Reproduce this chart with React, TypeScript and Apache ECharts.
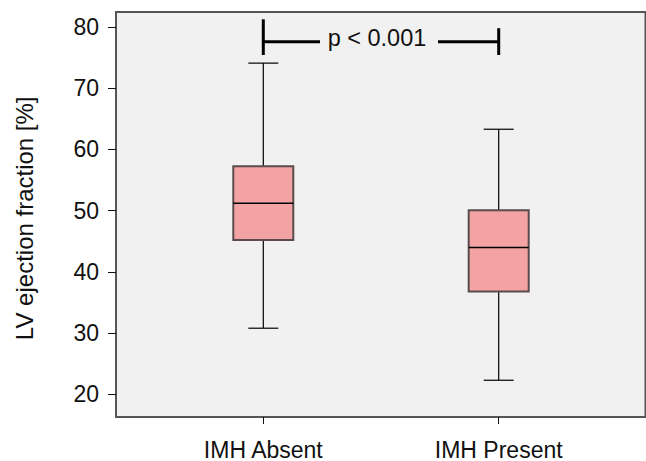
import React, { useEffect, useRef } from "react";
import * as echarts from "echarts";

const categories = ["IMH Absent", "IMH Present"];
const whiskerMin = [30.8, 22.3];
const q1 = [45.2, 36.8];
const median = [51.2, 44.0];
const q3 = [57.25, 50.05];
const whiskerMax = [74.1, 63.3];
const yTicks = [20, 30, 40, 50, 60, 70, 80];
const yTitle = "LV ejection fraction [%]";
const pLabel = "p < 0.001";
// bracket: left top, right top, bottom, horizontal line level
const bracketLeftTop = 81.26;
const bracketRightTop = 79.8;
const bracketBottom = 75.43;
const bracketLevel = 77.6;

const FONT = "'Liberation Sans', Arial, Helvetica, sans-serif";

export default function App() {
  const ref = useRef<HTMLDivElement>(null);
  useEffect(() => {
    if (!ref.current) return;
    const chart = echarts.init(ref.current, undefined, { renderer: "svg" });
    const boxData = categories.map((_, i) => [i, whiskerMin[i], q1[i], median[i], q3[i], whiskerMax[i]]);
    const option: any = {
      animation: false,
      backgroundColor: "#ffffff",
      textStyle: { fontFamily: FONT },
      grid: [
        { left: 116, width: 529.5, top: 27, bottom: 66.67 },
        { left: 145.6, width: 470.8, top: 27, bottom: 66.67 },
      ],
      xAxis: [
        { gridIndex: 0, type: "value", show: false, min: 0, max: 1 },
        {
          gridIndex: 1,
          type: "category",
          data: categories,
          offset: 22.67,
          axisLine: { show: false },
          axisTick: { show: true, alignWithLabel: true, length: 7, lineStyle: { color: "#111", width: 1 } },
          axisLabel: { fontSize: 23, color: "#111", margin: 21, fontFamily: FONT },
          splitLine: { show: false },
        },
      ],
      yAxis: [
        {
          gridIndex: 0,
          type: "value",
          min: yTicks[0],
          max: yTicks[yTicks.length - 1],
          interval: 10,
          axisLine: { show: false },
          axisTick: { show: true, length: 8, lineStyle: { color: "#111", width: 1 } },
          axisLabel: { fontSize: 23, color: "#111", margin: 17, fontFamily: FONT },
          splitLine: { show: false },
        },
        {
          gridIndex: 1,
          type: "value",
          min: yTicks[0],
          max: yTicks[yTicks.length - 1],
          show: false,
        },
      ],
      graphic: [
        {
          type: "rect",
          z: -10,
          shape: { x: 116, y: 12, width: 529.5, height: 405 },
          style: { fill: "#f1f1f1", stroke: "#555555", lineWidth: 2 },
        },
        {
          type: "text",
          x: 24.7,
          y: 218.3,
          rotation: Math.PI / 2,
          style: {
            text: yTitle,
            fontSize: 24,
            fontFamily: FONT,
            fill: "#111",
            textAlign: "center",
            textVerticalAlign: "middle",
          },
        },
      ],
      series: [
        {
          type: "custom",
          xAxisIndex: 1,
          yAxisIndex: 1,
          data: boxData,
          renderItem: (params: any, api: any) => {
            const x = api.value(0);
            const pMin = api.coord([x, api.value(1)]);
            const pQ1 = api.coord([x, api.value(2)]);
            const pMed = api.coord([x, api.value(3)]);
            const pQ3 = api.coord([x, api.value(4)]);
            const pMax = api.coord([x, api.value(5)]);
            const cx = pMin[0];
            const hb = 30;
            const hc = 15;
            const wStyle = { stroke: "#000", lineWidth: 1.2 };
            return {
              type: "group",
              children: [
                { type: "line", shape: { x1: cx, y1: pQ3[1], x2: cx, y2: pMax[1] }, style: wStyle },
                { type: "line", shape: { x1: cx, y1: pQ1[1], x2: cx, y2: pMin[1] }, style: wStyle },
                { type: "line", shape: { x1: cx - hc, y1: pMax[1], x2: cx + hc, y2: pMax[1] }, style: wStyle },
                { type: "line", shape: { x1: cx - hc, y1: pMin[1], x2: cx + hc, y2: pMin[1] }, style: wStyle },
                {
                  type: "rect",
                  shape: { x: cx - hb, y: pQ3[1], width: 2 * hb, height: pQ1[1] - pQ3[1] },
                  style: { fill: "#f4a3a4", stroke: "#5a4c4c", lineWidth: 2 },
                },
                { type: "line", shape: { x1: cx - hb, y1: pMed[1], x2: cx + hb, y2: pMed[1] }, style: { stroke: "#000", lineWidth: 1.5 } },
              ],
            };
          },
        },
        {
          type: "custom",
          xAxisIndex: 1,
          yAxisIndex: 1,
          data: [[0, 1, bracketLeftTop, bracketRightTop, bracketBottom, bracketLevel]],
          renderItem: (params: any, api: any) => {
            const lt = api.coord([api.value(0), api.value(2)]);
            const rt = api.coord([api.value(1), api.value(3)]);
            const lb = api.coord([api.value(0), api.value(4)]);
            const rb = api.coord([api.value(1), api.value(4)]);
            const lv = api.coord([api.value(0), api.value(5)]);
            const xl = lt[0];
            const xr = rt[0];
            const mid = (xl + xr) / 2;
            const s = { stroke: "#000", lineWidth: 3 };
            return {
              type: "group",
              children: [
                { type: "line", shape: { x1: xl, y1: lt[1], x2: xl, y2: lb[1] }, style: s },
                { type: "line", shape: { x1: xr, y1: rt[1], x2: xr, y2: rb[1] }, style: s },
                { type: "line", shape: { x1: xl, y1: lv[1], x2: mid - 61, y2: lv[1] }, style: s },
                { type: "line", shape: { x1: mid + 57, y1: lv[1], x2: xr, y2: lv[1] }, style: s },
                {
                  type: "text",
                  x: mid - 4,
                  y: lv[1] - 3.7,
                  style: {
                    text: pLabel,
                    fontSize: 23.5,
                    fontFamily: FONT,
                    fill: "#111",
                    textAlign: "center",
                    textVerticalAlign: "middle",
                  },
                },
              ],
            };
          },
        },
      ],
    };
    chart.setOption(option);
    return () => chart.dispose();
  }, []);
  return <div ref={ref} style={{ position: "absolute", left: 0, top: 0, width: 646, height: 461 }} />;
}
